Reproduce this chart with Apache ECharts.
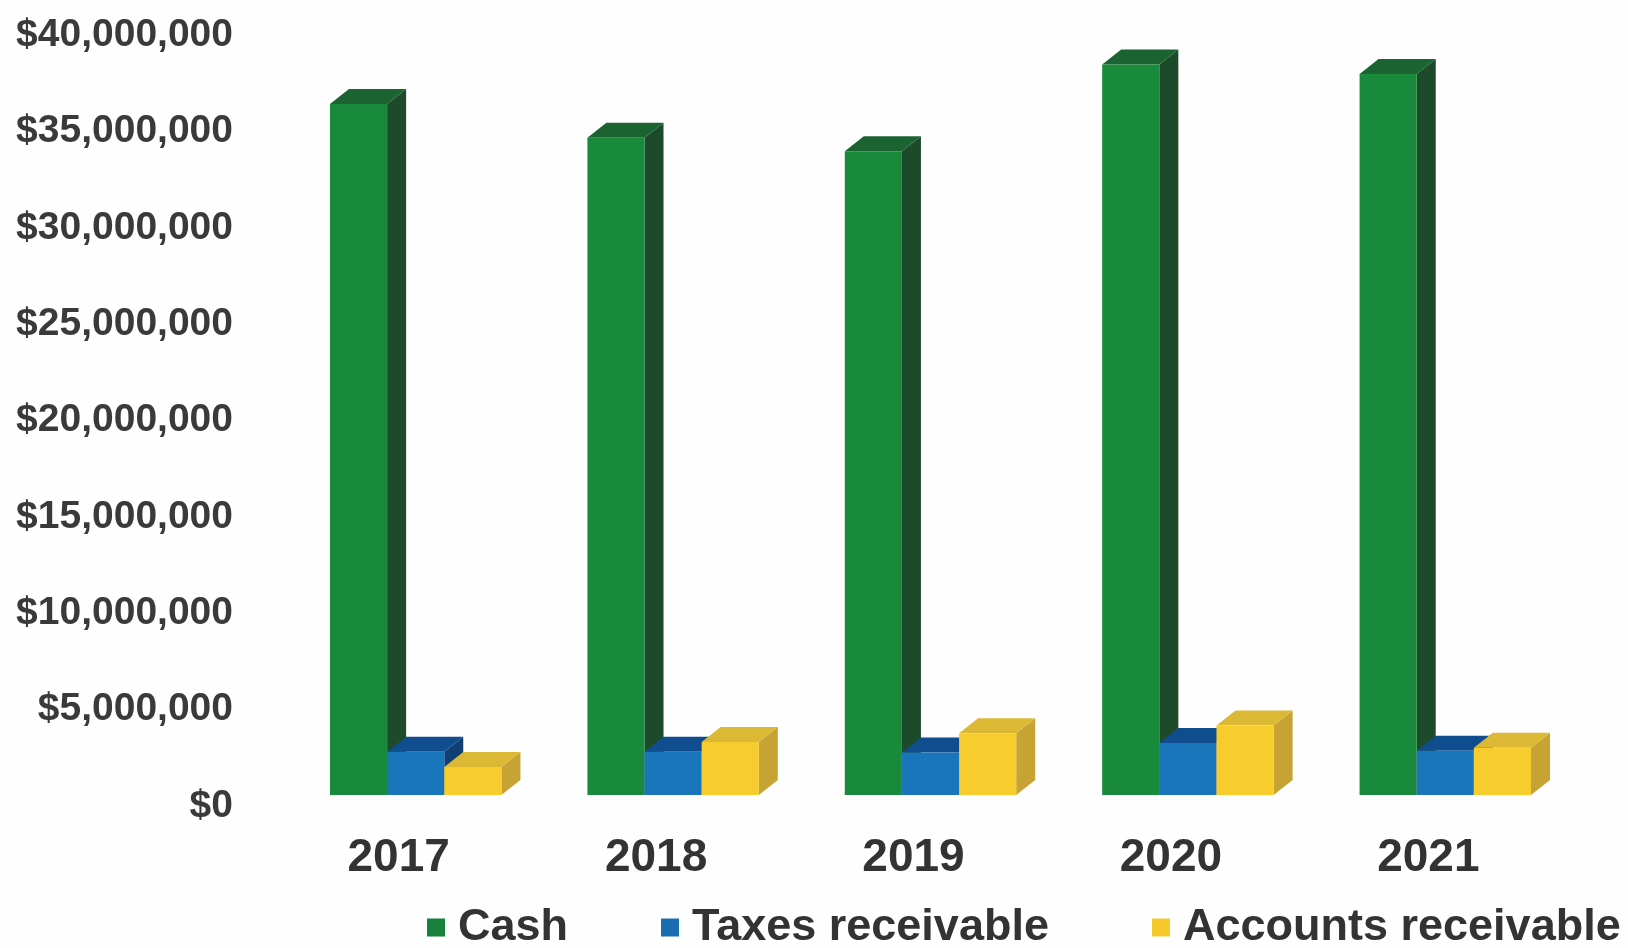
<!DOCTYPE html>
<html>
<head>
<meta charset="utf-8">
<script src="https://cdn.jsdelivr.net/npm/echarts@6/dist/echarts.min.js"></script>
<style>
html,body{margin:0;padding:0;background:#fefefe;}
#chart{width:1628px;height:948px;}
</style>
</head>
<body>
<div id="chart"></div>
<script>
const categories = ['2017', '2018', '2019', '2020', '2021'];
const cash = [35850000, 34100000, 33400000, 37900000, 37400000];
const taxesReceivable = [2250000, 2250000, 2200000, 2700000, 2300000];
const accountsReceivable = [1450000, 2750000, 3200000, 3600000, 2450000];
const seriesNames = ['Cash', 'Taxes receivable', 'Accounts receivable'];
const yTicks = { min: 0, max: 40000000, interval: 5000000 };

const palette = [
  { front: '#198a3b', top: '#1b6331', side: '#1d4a2b', legend: '#17803a' },
  { front: '#1a76bb', top: '#104d8f', side: '#0f3f73', legend: '#1a6db3' },
  { front: '#f7cd2d', top: '#dcb935', side: '#c6a332', legend: '#f5c92b' }
];
const DX = 19, DY = 15, BAR_RATIO = 0.222;
const legendLefts = [427, 661, 1152];

function makeRender(s) {
  return function (params, api) {
    const c = api.value(0);
    const v = api.value(1);
    const top = api.coord([c, v]);
    const base = api.coord([c, 0]);
    const band = api.size([1, 0])[0];
    const bw = band * BAR_RATIO;
    const x0 = base[0] - 1.5 * bw + s * bw;
    const x1 = x0 + bw;
    const yb = base[1], yt = top[1];
    const col = palette[s];
    return {
      type: 'group',
      children: [
        { type: 'polygon', shape: { points: [[x1, yt], [x1 + DX, yt - DY], [x1 + DX, yb - DY], [x1, yb]] }, style: { fill: col.side } },
        { type: 'polygon', shape: { points: [[x0, yt], [x0 + DX, yt - DY], [x1 + DX, yt - DY], [x1, yt]] }, style: { fill: col.top } },
        { type: 'rect', shape: { x: x0, y: yt, width: bw, height: yb - yt }, style: { fill: col.front } }
      ]
    };
  };
}

const dataSets = [cash, taxesReceivable, accountsReceivable];
const chart = echarts.init(document.getElementById('chart'), null, { renderer: 'canvas' });
chart.setOption({
  backgroundColor: '#fefefe',
  animation: false,
  grid: { left: 287, right: 54, top: 24, bottom: 153 },
  legend: seriesNames.map(function (n, i) {
    return {
      data: [n],
      left: legendLefts[i],
      top: 905,
      padding: 0,
      itemWidth: 18,
      itemHeight: 18,
      icon: 'rect',
      selectedMode: false,
      textStyle: { fontFamily: 'Liberation Sans, Arial, sans-serif', fontWeight: 'bold', fontSize: 45, color: '#333333', padding: [0, 0, 0, 8] }
    };
  }),
  xAxis: {
    type: 'category',
    data: categories,
    axisLine: { show: false },
    axisTick: { show: false },
    axisLabel: { margin: 40, fontFamily: 'Liberation Sans, Arial, sans-serif', fontWeight: 'bold', fontSize: 46, color: '#333333', padding: [0, 34, 0, 0] }
  },
  yAxis: {
    type: 'value',
    min: yTicks.min,
    max: yTicks.max,
    interval: yTicks.interval,
    axisLine: { show: false },
    axisTick: { show: false },
    splitLine: { show: false },
    axisLabel: {
      margin: 54,
      fontFamily: 'Liberation Sans, Arial, sans-serif',
      fontWeight: 'bold',
      fontSize: 39,
      color: '#3a3a3a',
      verticalAlign: 'top',
      lineHeight: 22,
      formatter: function (v) { return '$' + v.toLocaleString('en-US'); }
    }
  },
  series: dataSets.map(function (arr, s) {
    return {
      name: seriesNames[s],
      type: 'custom',
      renderItem: makeRender(s),
      itemStyle: { color: palette[s].legend },
      encode: { x: 0, y: 1 },
      z: 2 + s,
      data: arr.map(function (v, i) { return [i, v]; })
    };
  })
});
</script>
</body>
</html>
